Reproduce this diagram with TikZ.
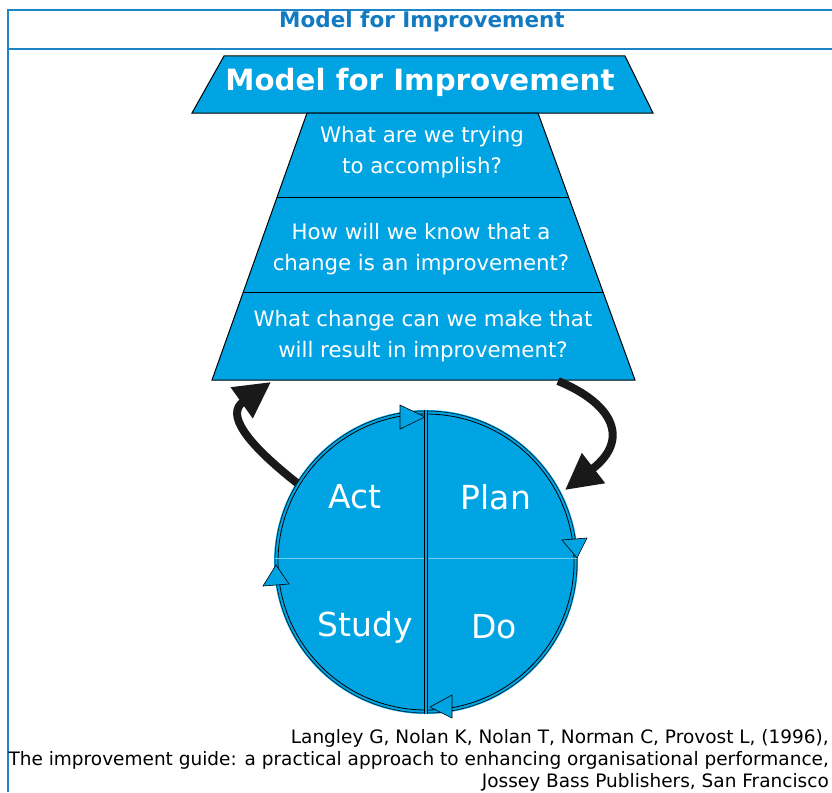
\documentclass[tikz,border=0pt]{standalone}
\usepackage{fontspec}
\setmainfont{DejaVu Sans}
\usetikzlibrary{arrows.meta}
\definecolor{pdsa}{RGB}{0,164,226}
\definecolor{frameblue}{RGB}{30,132,200}
\definecolor{titleblue}{RGB}{18,122,192}
\begin{document}
\begin{tikzpicture}[x=1pt, y=-1pt,
    band/.style={fill=pdsa, draw=black, line width=1pt},
    question/.style={text=white, align=center, font=\fontsize{21.3}{31}\selectfont},
    quarter/.style={text=white, font=\fontsize{33}{38}\selectfont},
    cyclehead/.style={fill=pdsa, draw=black, line width=0.6pt},
    loop/.style={line width=8pt, draw=black!90, -{Triangle[length=36pt, width=36pt]}}]
  \useasboundingbox (0, 0) rectangle (832, 792);
  % frame and caption
  \draw[frameblue, line width=1.5pt] (832, 10) -- (8, 10) -- (8, 792);
  \draw[frameblue, line width=1.5pt] (8, 49) -- (832, 49);
  \node[text=titleblue, font=\bfseries\fontsize{21.5}{24}\selectfont] (caption) at (422, 22) {Model for Improvement};
  % pyramid
  \draw[band] (224, 56) -- (625, 56) -- (653, 113) -- (192, 113) -- cycle;
  \node[text=white, font=\bfseries\fontsize{29.3}{34}\selectfont] (head) at (420, 82) {Model for Improvement};
  \draw[band] (307, 113) -- (538, 113) -- (635, 380) -- (212, 380) -- cycle;
  \draw[line width=1pt] (277, 197) -- (569, 197);
  \draw[line width=1pt] (243, 292) -- (603, 292);
  \node[question] (aim) at (422, 152) {What are we trying\\to accomplish?};
  \node[question] (measure) at (421, 249) {How will we know that a\\change is an improvement?};
  \node[question] (change) at (423, 336) {What change can we make that\\will result in improvement?};
  % PDSA cycle
  \coordinate (hub) at (426, 562);
  \fill[pdsa] (hub) circle[radius=152];
  \draw[black, line width=0.5pt] (hub) circle[radius=151];
  \draw[black, line width=0.8pt] (hub) circle[radius=148];
  \draw[pdsa!55!white, line width=1pt] (275, 558) -- (577, 558);
  \draw[line width=1pt, double=pdsa, double distance=2.5pt] (426, 410) -- (426, 714);
  \draw[cyclehead] (400, 405) -- (425, 417) -- (400, 429) -- cycle;
  \draw[cyclehead] (562, 540) -- (587, 538) -- (577, 558) -- cycle;
  \draw[cyclehead] (452, 695) -- (430, 707) -- (452, 718) -- cycle;
  \draw[cyclehead] (263, 586) -- (276, 565) -- (289, 584) -- cycle;
  \node[quarter] (act) at (355, 497) {Act};
  \node[quarter] (plan) at (496, 497) {Plan};
  \node[quarter] (study) at (365, 627) {Study};
  \node[quarter] (do) at (494, 627) {Do};
  % links between pyramid and cycle
  \coordinate (actout) at (297, 483);
  \coordinate (pyrleft) at (271, 382);
  \coordinate (pyrright) at (558, 381);
  \coordinate (planin) at (565, 490);
  \draw[loop] (actout) .. controls (245, 442) and (226, 414) .. (pyrleft);
  \draw[loop] (pyrright) .. controls (614, 404) and (630, 440) .. (planin);
  % reference
  \node[anchor=north east, align=right, inner sep=0pt,
        font=\fontsize{18.5}{22}\selectfont] (source) at (829, 729)
    {Langley G, Nolan K, Nolan T, Norman C, Provost L, (1996),\\
     The improvement guide: a practical approach to enhancing organisational performance,\\
     Jossey Bass Publishers, San Francisco};
\end{tikzpicture}
\end{document}
